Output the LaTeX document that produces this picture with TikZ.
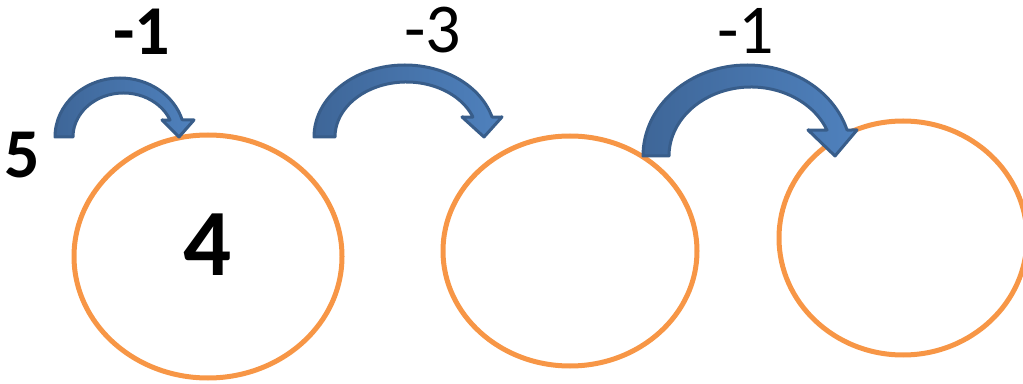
\documentclass[tikz,border=0pt]{standalone}
\usepackage{fontspec}
\setmainfont{Carlito}
\usetikzlibrary{shapes.geometric,calc}
\definecolor{ringorange}{RGB}{247,150,70}
\definecolor{arrowdark}{RGB}{56,93,138}
\definecolor{arrowleft}{RGB}{62,102,152}
\definecolor{arrowright}{RGB}{79,129,189}
\tikzset{
  ring/.style={ellipse, draw=ringorange, line width=5pt, inner sep=0pt},
  barrow/.style={draw=arrowdark, line width=3pt, line join=round, left color=arrowleft, right color=arrowright},
  numlbl/.style={inner sep=0pt, font=\fontsize{70}{84}\selectfont},
  boldlbl/.style={numlbl, font=\fontsize{70}{84}\selectfont\bfseries}
}
\begin{document}
\begin{tikzpicture}[x=1pt,y=1pt]
\useasboundingbox (0,0) rectangle (1023,383);
% rings
\node[ring, minimum width=268pt, minimum height=243pt] (r1) at (208,126.5) {};
\node[ring, minimum width=254pt, minimum height=230pt] (r2) at (570,132) {};
\node[ring, minimum width=248pt, minimum height=234pt] (r3) at (903,145) {};
% labels
\node[inner sep=0pt, font=\fontsize{95}{110}\selectfont\bfseries] (four) at (207.5,138) {4};
\node[boldlbl] (five) at (22,228) {5};
\node[boldlbl] (m1) at (142,351.5) {-1};
\node[numlbl] (m3) at (433,352.5) {-3};
\node[numlbl] (m1b) at (746,352.5) {-1};
% curved block arrows
\draw[barrow] (55,246) arc[start angle=180,end angle=17,x radius=65pt,y radius=59pt]
  -- (194,263) -- (179,246) -- (162,263)
  -- ($(123.5,246)+(22.7:50.5pt and 44pt)$)
  arc[start angle=22.7,end angle=180,x radius=50.5pt,y radius=44pt] -- cycle;
\draw[barrow] (314,246) arc[start angle=180,end angle=16.1,x radius=90.8pt,y radius=72pt]
  -- (502,266) -- (484,246) -- (462,266)
  -- ($(406.4,246)+(21.3:71.4pt and 55pt)$)
  arc[start angle=21.3,end angle=180,x radius=71.4pt,y radius=55pt] -- cycle;
\draw[barrow] (643,227) arc[start angle=180,end angle=16.6,x radius=104.2pt,y radius=91pt]
  -- (857,253) -- (835,227) -- (808,253)
  -- ($(751,227)+(22.1:82pt and 69pt)$)
  arc[start angle=22.1,end angle=180,x radius=82pt,y radius=69pt] -- cycle;
\end{tikzpicture}
\end{document}
